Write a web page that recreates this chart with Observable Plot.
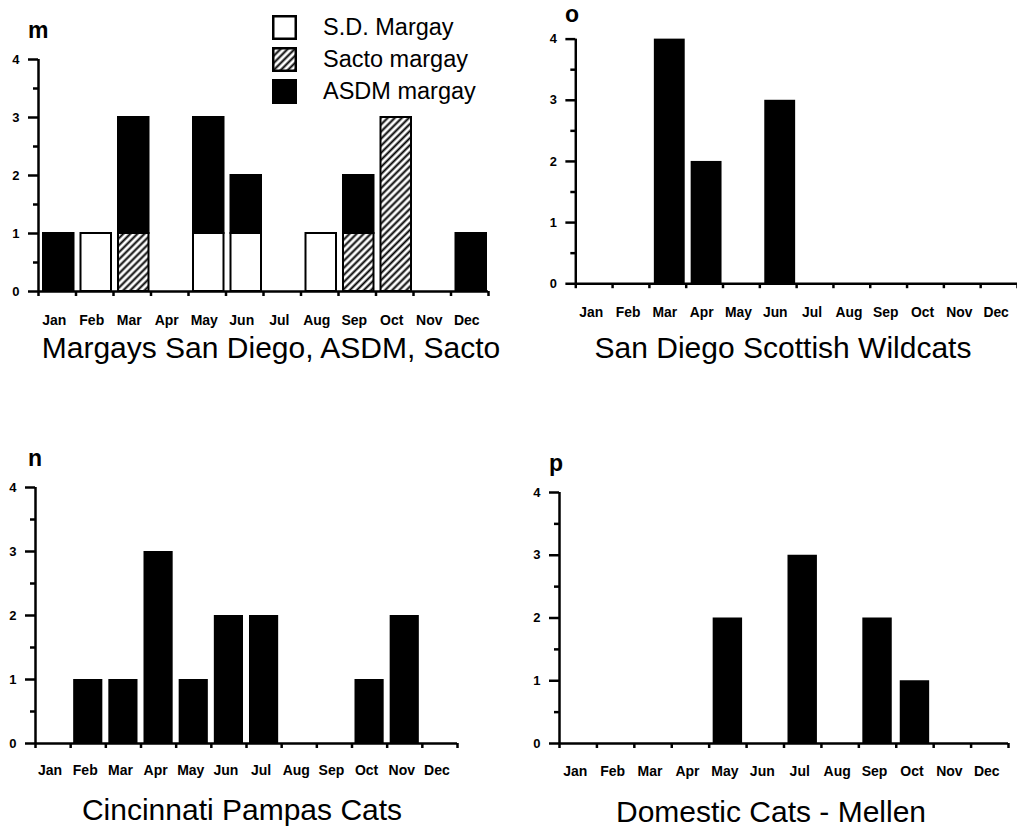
<!DOCTYPE html>
<html>
<head>
<meta charset="utf-8">
<script src="https://cdn.jsdelivr.net/npm/d3@7"></script>
<script src="https://cdn.jsdelivr.net/npm/@observablehq/plot@0.6"></script>
<style>
  body { margin: 0; background: #fff; }
  #figure { position: relative; width: 1017px; height: 830px; overflow: hidden; background: #fff;
            font-family: "Liberation Sans", Arial, sans-serif; color: #000; }
  .panel { position: absolute; }
  .letter { position: absolute; font-weight: bold; font-size: 23px; line-height: 1; }
  .title { position: absolute; font-size: 30px; line-height: 1; white-space: nowrap; transform: translateX(-50%); }
  .legend { position: absolute; left: 272px; top: 11px; }
  .legend .row { display: flex; align-items: center; height: 32px; }
  .legend .row span { margin-left: 26px; font-size: 23.5px; }
</style>
</head>
<body>
<svg width="0" height="0" style="position:absolute">
  <defs>
    <pattern id="hatch" patternUnits="userSpaceOnUse" width="5" height="5" patternTransform="rotate(45)">
      <rect width="5" height="5" fill="white"></rect>
      <line x1="2.5" y1="0" x2="2.5" y2="5" stroke="black" stroke-width="2"></line>
    </pattern>
  </defs>
</svg>
<div id="figure"></div>
<script>
// Month categories and tick values shared by all four panels
const months = ["Jan", "Feb", "Mar", "Apr", "May", "Jun", "Jul", "Aug", "Sep", "Oct", "Nov", "Dec"];
const yTicks = [0, 1, 2, 3, 4];
const yMinorTicks = [0.5, 1.5, 2.5, 3.5];

// Panel m: margay births per month, by colony
const margaySeries = ["S.D. Margay", "Sacto margay", "ASDM margay"];
const sdMargay    = [0, 1, 0, 0, 1, 1, 0, 1, 0, 0, 0, 0];
const sactoMargay = [0, 0, 1, 0, 0, 0, 0, 0, 1, 3, 0, 0];
const asdmMargay  = [1, 0, 2, 0, 2, 1, 0, 0, 1, 0, 0, 1];
const margayFills = ["white", "url(#hatch)", "black"];

// Panel o: San Diego Scottish wildcats
const scottishWildcats = [0, 0, 4, 2, 0, 3, 0, 0, 0, 0, 0, 0];
// Panel n: Cincinnati pampas cats
const pampasCats = [0, 1, 1, 3, 1, 2, 2, 0, 0, 1, 2, 0];
// Panel p: domestic cats (Mellen)
const domesticCats = [0, 0, 0, 0, 2, 0, 3, 0, 2, 1, 0, 0];

const figure = document.getElementById("figure");

function toRows(seriesNames, seriesValues) {
  const rows = [];
  months.forEach((m, i) => {
    seriesNames.forEach((s, k) => {
      const count = seriesValues[k][i];
      if (count > 0) rows.push({i, month: m, series: s, count});
    });
  });
  return rows;
}

function addPanel(cfg) {
  const barOptions = {
    x1: "i", x2: d => d.i + 1, y: "count",
    insetLeft: cfg.inset[0], insetRight: cfg.inset[1]
  };
  const bars = cfg.fills
    ? Plot.rectY(cfg.rows, {...barOptions, fill: "series", stroke: "black", strokeWidth: 2})
    : Plot.rectY(cfg.rows, {...barOptions, fill: "black"});

  const chart = Plot.plot({
    width: cfg.width, height: cfg.height,
    marginLeft: cfg.margin[3], marginRight: cfg.margin[1],
    marginTop: cfg.margin[0], marginBottom: cfg.margin[2],
    style: {fontFamily: "'Liberation Sans', Arial, sans-serif", fontSize: "13px", fontWeight: "bold",
            color: "black", background: "transparent", overflow: "visible"},
    x: {domain: [0, 12]},
    y: {domain: [0, 4]},
    color: cfg.fills ? {domain: cfg.series, range: cfg.fills} : undefined,
    marks: [
      bars,
      Plot.ruleX([0], {y1: 0, y2: 4, strokeWidth: 2.5}),
      Plot.ruleY([0], {x1: 0, x2: 12, strokeWidth: 2.5}),
      Plot.axisY({ticks: yTicks, tickSize: 10, tickPadding: 9, strokeWidth: 2.5,
                  fontSize: 13, label: null, tickFormat: d3.format("d")}),
      Plot.axisY({ticks: yMinorTicks, tickSize: 5, strokeWidth: 2.5, label: null, tickFormat: () => ""}),
      Plot.axisX({ticks: d3.range(13), tickSize: 5, strokeWidth: 2.5, label: null, tickFormat: () => ""}),
      Plot.axisX({ticks: months.map((_, i) => i + 0.5), tickSize: 0, tickPadding: cfg.labelPad,
                  fontSize: 14, dx: -3, label: null, tickFormat: v => months[Math.floor(v)]})
    ]
  });
  const holder = document.createElement("div");
  holder.className = "panel";
  holder.style.left = cfg.left + "px";
  holder.style.top = cfg.top + "px";
  holder.appendChild(chart);
  figure.appendChild(holder);

  const letter = document.createElement("div");
  letter.className = "letter";
  letter.textContent = cfg.letter;
  letter.style.left = cfg.letterPos[0] + "px";
  letter.style.top = cfg.letterPos[1] + "px";
  figure.appendChild(letter);

  const title = document.createElement("div");
  title.className = "title";
  title.textContent = cfg.title;
  title.style.left = cfg.titlePos[0] + "px";
  title.style.top = cfg.titlePos[1] + "px";
  figure.appendChild(title);
}

addPanel({
  letter: "m", title: "Margays San Diego, ASDM, Sacto",
  rows: toRows(margaySeries, [sdMargay, sactoMargay, asdmMargay]),
  series: margaySeries, fills: margayFills,
  left: 0, top: 0, width: 500, height: 340, margin: [59, 12, 49, 38],
  inset: [5, 2], labelPad: 24, letterPos: [28, 19], titlePos: [271, 333]
});
addPanel({
  letter: "o", title: "San Diego Scottish Wildcats",
  rows: toRows(["Scottish wildcat"], [scottishWildcats]),
  left: 500, top: 0, width: 522, height: 330, margin: [39, 0, 44, 76],
  inset: [5, 1], labelPad: 24, letterPos: [565, 3], titlePos: [783, 333]
});
addPanel({
  letter: "n", title: "Cincinnati Pampas Cats",
  rows: toRows(["Pampas cat"], [pampasCats]),
  left: 0, top: 440, width: 470, height: 350, margin: [47, 13, 47, 35],
  inset: [3, 3], labelPad: 22, letterPos: [28, 447], titlePos: [242, 795]
});
addPanel({
  letter: "p", title: "Domestic Cats - Mellen",
  rows: toRows(["Domestic cat"], [domesticCats]),
  left: 500, top: 440, width: 517, height: 350, margin: [52, 9, 47, 59],
  inset: [4, 4], labelPad: 23, letterPos: [549, 452], titlePos: [771, 797]
});

// Legend for the margay panel
const legend = document.createElement("div");
legend.className = "legend";
margaySeries.forEach((s, k) => {
  const row = document.createElement("div");
  row.className = "row";
  row.innerHTML = `<svg width="25" height="25"><rect x="1.25" y="1.25" width="22.5" height="22.5" fill="${margayFills[k]}" stroke="black" stroke-width="2.5"></rect></svg><span></span>`;
  row.querySelector("span").textContent = s;
  legend.appendChild(row);
});
figure.appendChild(legend);
</script>
</body>
</html>
